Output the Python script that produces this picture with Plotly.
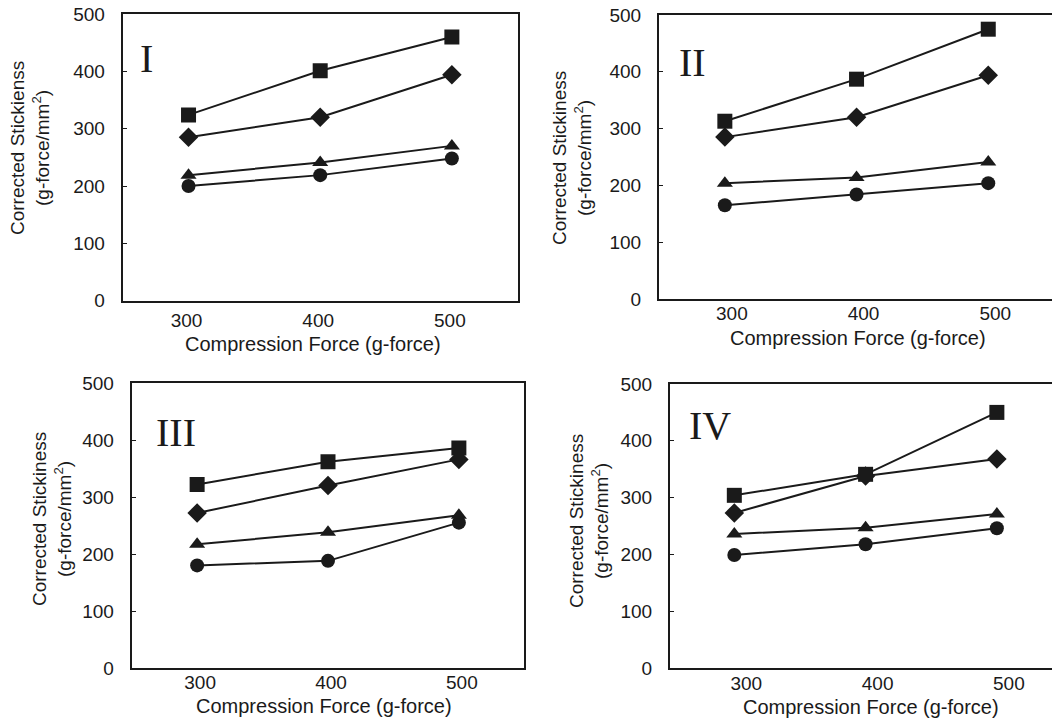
import plotly.graph_objects as go

# ---------------- data ----------------
compression_force = [300, 400, 500]

# Panel I
p1_square = [324, 401, 460]
p1_diamond = [285, 320, 394]
p1_triangle = [219, 241, 270]
p1_circle = [200, 219, 248]

# Panel II
p2_square = [313, 387, 475]
p2_diamond = [285, 320, 394]
p2_triangle = [204, 214, 241]
p2_circle = [165, 184, 204]

# Panel III
p3_square = [322, 362, 386]
p3_diamond = [272, 320, 366]
p3_triangle = [217, 238, 268]
p3_circle = [180, 188, 255]

# Panel IV
p4_square = [304, 341, 450]
p4_diamond = [273, 338, 368]
p4_triangle = [236, 247, 271]
p4_circle = [199, 218, 246]

panel_labels = ["I", "II", "III", "IV"]
y_titles = ["Corrected Stickienss", "Corrected Stickiness",
            "Corrected Stickiness", "Corrected Stickiness"]
y_unit = "(g-force/mm<sup>2</sup>)"
x_title = "Compression Force (g-force)"
y_tick_values = [0, 100, 200, 300, 400, 500]
x_tick_values = [300, 400, 500]

panels = [
    (p1_square, p1_diamond, p1_triangle, p1_circle),
    (p2_square, p2_diamond, p2_triangle, p2_circle),
    (p3_square, p3_diamond, p3_triangle, p3_circle),
    (p4_square, p4_diamond, p4_triangle, p4_circle),
]

# ---------------- layout geometry (pixels) ----------------
W, H = 1052, 719
# (left, right, top, bottom) of each plot box
boxes = [(122.7, 517.7, 14, 300.7), (659, 1052, 15, 299),
         (131.7, 524.3, 383, 668), (670, 1052, 384, 668)]
x_ranges = [[250, 550], [250, 548.4], [250, 550], [251, 542]]
mirror_y = [True, False, True, False]
x_label_shift = [-2, 7, 3, 12]
x_label_standoff = [1, -4, -4, -3]
label_pos = [(146, 58), (692, 62), (176, 432), (710, 426)]
ytitle_pos = [(30, 148), (572, 158), (52, 519), (589, 521)]
xtitle_pos = [(313, 344), (858, 338), (324, 706), (871, 707)]

INK = "#1a1a1a"
FONT = "Liberation Sans, Arial, sans-serif"

fig = go.Figure()

symbols = ["circle", "triangle-up", "diamond", "square"]
sizes = [14, 14, 15, 15]

annotations = []
for i, (sq, di, tr, ci) in enumerate(panels):
    n = "" if i == 0 else str(i + 1)
    series = [ci, tr, di, sq]
    for s, sym, sz in zip(series, symbols, sizes):
        fig.add_trace(go.Scatter(
            x=compression_force, y=s, mode="lines+markers",
            xaxis="x" + n, yaxis="y" + n,
            line=dict(color=INK, width=2),
            marker=dict(symbol=sym, size=sz, color=INK),
            showlegend=False, hoverinfo="x+y"))

    l, r, t, b = boxes[i]
    xd = [l / W, min(r / W, 1.0)]
    yd = [1 - b / H, 1 - t / H]
    fig.layout["xaxis" + n] = dict(
        domain=xd, range=x_ranges[i], anchor="y" + n,
        tickvals=x_tick_values, showgrid=False, zeroline=False,
        showline=True, linecolor=INK, linewidth=2, mirror=True,
        ticks="", tickfont=dict(size=19, color=INK, family=FONT),
        ticklabelstandoff=x_label_standoff[i],
        ticklabelshift=x_label_shift[i], automargin=False)
    fig.layout["yaxis" + n] = dict(
        domain=yd, range=[0, 500], anchor="x" + n,
        tickvals=y_tick_values, showgrid=False, zeroline=False,
        showline=True, linecolor=INK, linewidth=2, mirror=mirror_y[i],
        ticks="inside", ticklen=4, tickcolor=INK,
        tickfont=dict(size=19, color=INK, family=FONT),
        ticklabelstandoff=12, automargin=False)

    lx, ly = label_pos[i]
    annotations.append(dict(
        text=panel_labels[i], x=lx / W, y=1 - ly / H, xref="paper", yref="paper",
        showarrow=False, xanchor="center", yanchor="middle",
        font=dict(family="Liberation Serif, Times New Roman, serif", size=40, color=INK)))
    tx, ty = ytitle_pos[i]
    annotations.append(dict(
        text=y_titles[i] + "<br>" + y_unit, x=tx / W, y=1 - ty / H,
        xref="paper", yref="paper", showarrow=False, textangle=-90,
        xanchor="center", yanchor="middle",
        font=dict(family=FONT, size=19, color=INK)))
    xx, xy = xtitle_pos[i]
    annotations.append(dict(
        text=x_title, x=xx / W, y=1 - xy / H, xref="paper", yref="paper",
        showarrow=False, xanchor="center", yanchor="middle",
        font=dict(family=FONT, size=20, color=INK)))

fig.update_layout(
    width=W, height=H, margin=dict(l=0, r=0, t=0, b=0, autoexpand=False),
    paper_bgcolor="white", plot_bgcolor="white",
    annotations=annotations, showlegend=False)

fig.write_html("out.html",
               config={"displayModeBar": False},
               post_script="document.body.style.margin='0';"
                           "document.body.style.overflow='hidden';")
